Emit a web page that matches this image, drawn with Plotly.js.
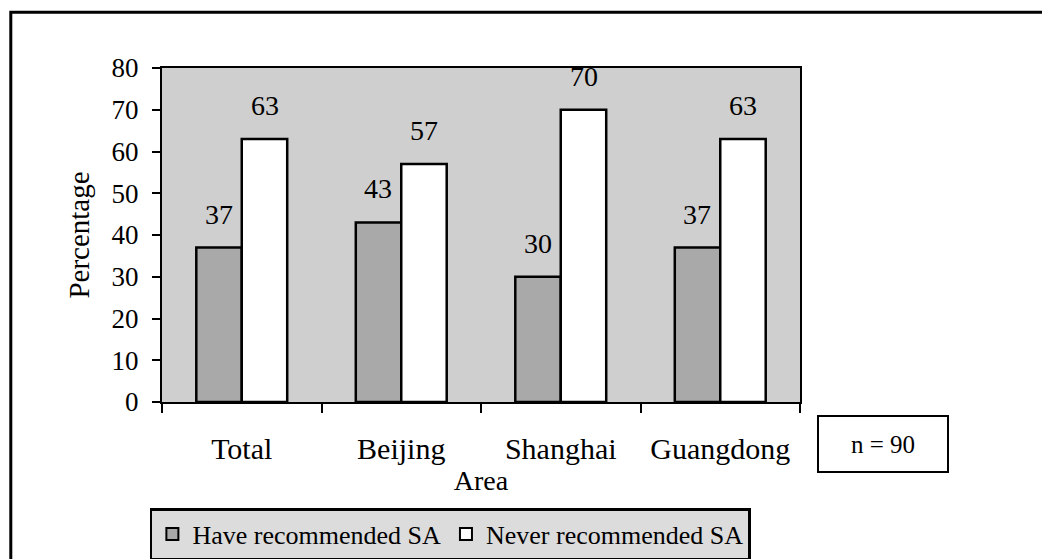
<!DOCTYPE html>
<html>
<head>
<meta charset="utf-8">
<script src="https://cdn.plot.ly/plotly-3.0.1.min.js"></script>
<style>
html, body { margin: 0; padding: 0; background: #ffffff; }
#chart { width: 1042px; height: 559px; }
</style>
</head>
<body>
<div id="chart"></div>
<script>
const categories = ["Total", "Beijing", "Shanghai", "Guangdong"];
const haveRecommended = [37, 43, 30, 37];
const neverRecommended = [63, 57, 70, 63];
const seriesNames = ["Have recommended SA", "Never recommended SA"];
const yTickValues = [0, 10, 20, 30, 40, 50, 60, 70, 80];

const serif = "Liberation Serif, Times New Roman, serif";

const traces = [
  {
    type: "bar", name: seriesNames[0], x: categories, y: haveRecommended,
    marker: { color: "#a9a9a9", line: { color: "#000000", width: 2.5 } },
    hoverinfo: "skip"
  },
  {
    type: "bar", name: seriesNames[1], x: categories, y: neverRecommended,
    marker: { color: "#ffffff", line: { color: "#000000", width: 2.5 } },
    hoverinfo: "skip"
  }
];

const annotations = [];
[haveRecommended, neverRecommended].forEach((vals, i) => {
  vals.forEach((v, j) => {
    annotations.push({
      x: categories[j], y: v, xref: "x", yref: "y",
      text: String(v), showarrow: false,
      xanchor: "center", yanchor: "bottom",
      xshift: i === 0 ? -23 : 23, yshift: 16,
      font: { family: serif, size: 28, color: "#000000" }
    });
  });
});
annotations.push({
  xref: "paper", yref: "paper", x: 1.13, y: -0.125,
  xanchor: "center", yanchor: "middle",
  text: "n = 90", showarrow: false,
  width: 128, height: 54, borderpad: 0,
  bordercolor: "#000000", borderwidth: 2, bgcolor: "#ffffff",
  font: { family: serif, size: 25, color: "#000000" }
});

const layout = {
  width: 1042, height: 559,
  margin: { l: 162, r: 242, t: 68, b: 157, pad: 0, autoexpand: false },
  paper_bgcolor: "#ffffff",
  plot_bgcolor: "#cfcfcf",
  barmode: "group",
  bargap: 0.43,
  bargroupgap: 0,
  showlegend: true,
  legend: {
    orientation: "h", x: -0.019, xanchor: "left", y: -0.318, yanchor: "top",
    bgcolor: "#dcdcdc", bordercolor: "#000000", borderwidth: 2.5,
    font: { family: serif, size: 26, color: "#000000" },
    itemsizing: "constant", tracegroupgap: 0
  },
  xaxis: {
    type: "category", automargin: false,
    showline: true, linecolor: "#000000", linewidth: 2, mirror: true,
    ticks: "outside", tickson: "boundaries", ticklen: 9, tickwidth: 2, tickcolor: "#000000",
    ticklabelstandoff: 19,
    tickfont: { family: serif, size: 30, color: "#000000" },
    showgrid: false, zeroline: false,
    title: { text: "Area", font: { family: serif, size: 28, color: "#000000" }, standoff: 6 }
  },
  yaxis: {
    range: [0, 80], tickvals: yTickValues, ticktext: yTickValues.map(String), automargin: false,
    showline: true, linecolor: "#000000", linewidth: 2, mirror: true,
    ticks: "outside", ticklen: 8, tickwidth: 2, tickcolor: "#000000",
    ticklabelstandoff: 8,
    tickfont: { family: serif, size: 27, color: "#000000" },
    showgrid: false, zeroline: false,
    title: { text: "Percentage", font: { family: serif, size: 29, color: "#000000" }, standoff: 13 }
  },
  annotations: annotations,
  shapes: [
    {
      type: "rect", xref: "paper", yref: "paper",
      x0: -0.237, x1: 1.39, y0: -0.55, y1: 1.167,
      line: { color: "#000000", width: 3 }, fillcolor: "rgba(0,0,0,0)", layer: "below"
    }
  ]
};

Plotly.newPlot("chart", traces, layout, { staticPlot: true, displayModeBar: false });
</script>
</body>
</html>
